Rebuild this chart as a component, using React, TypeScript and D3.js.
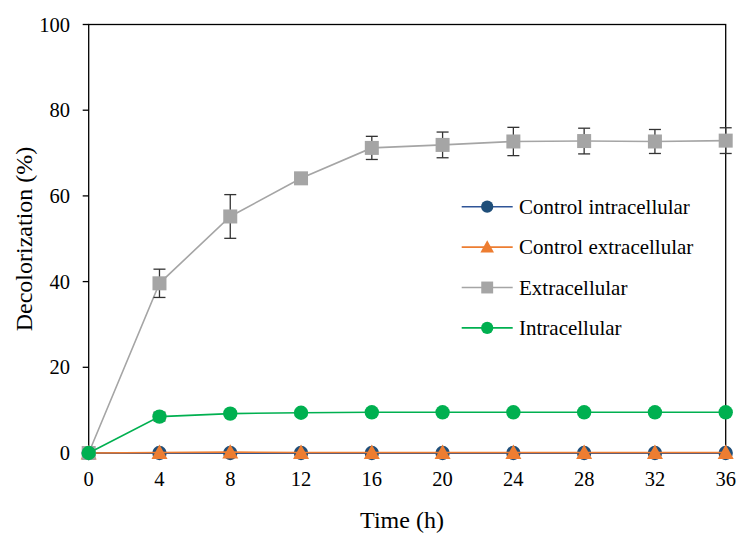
import React from "react";
import * as d3 from "d3";

const times = [0, 4, 8, 12, 16, 20, 24, 28, 32, 36];
const controlIntra = [0, 0, 0, 0, 0, 0, 0, 0, 0, 0];
const controlExtra = [0, 0.1, 0.2, 0.1, 0.1, 0.1, 0.1, 0.1, 0.1, 0.1];
const extra = [0, 39.6, 55.2, 64.1, 71.2, 71.9, 72.7, 72.8, 72.7, 72.9];
const extraErr = [0, 3.3, 5.1, 0.8, 2.7, 3.0, 3.3, 3.0, 2.8, 3.0];
const intra = [0, 8.5, 9.2, 9.4, 9.5, 9.5, 9.5, 9.5, 9.5, 9.5];
const intraErr = [0, 1.0, 0.6, 0.3, 0.3, 0.3, 0.3, 0.3, 0.3, 0.3];
const xTicks = [0, 4, 8, 12, 16, 20, 24, 28, 32, 36];
const yTicks = [0, 20, 40, 60, 80, 100];
const legendLabels = ["Control intracellular", "Control extracellular", "Extracellular", "Intracellular"];

const W = 738, H = 533;
const M = { left: 88.7, right: 725.7, top: 24.5, bottom: 453 };
const font = "'Liberation Serif', 'Times New Roman', Times, serif";

type Series = { name: string; values: number[]; err?: number[]; color: string; lineColor: string; shape: string };

export default function App() {
  const x = d3.scaleLinear().domain([0, 36]).range([M.left, M.right]);
  const y = d3.scaleLinear().domain([0, 100]).range([M.bottom, M.top]);

  const series: Series[] = [
    { name: legendLabels[0], values: controlIntra, color: "#1F4E79", lineColor: "#2F5597", shape: "circle" },
    { name: legendLabels[1], values: controlExtra, color: "#ED7D31", lineColor: "#ED7D31", shape: "triangle" },
    { name: legendLabels[2], values: extra, err: extraErr, color: "#A5A5A5", lineColor: "#A5A5A5", shape: "square" },
    { name: legendLabels[3], values: intra, err: intraErr, color: "#00B050", lineColor: "#00B050", shape: "circle" },
  ];

  const marker = (shape: string, cx: number, cy: number, color: string, key: string | number, size = 1) => {
    if (shape === "circle") return <circle key={key} cx={cx} cy={cy} r={7.2 * size} fill={color} />;
    if (shape === "square") return <rect key={key} x={cx - 7 * size} y={cy - 7 * size} width={14 * size} height={14 * size} fill={color} />;
    const s = 8 * size;
    return <path key={key} d={`M${cx},${cy - s}L${cx + s},${cy + s * 0.8}L${cx - s},${cy + s * 0.8}Z`} fill={color} />;
  };

  const line = d3.line<number>().x((_, i) => x(times[i])).y((d) => y(d));

  return (
    <svg width={W} height={H} style={{ position: "absolute", left: 0, top: 0, background: "#fff", fontFamily: font }}>
      <rect x={0} y={0} width={W} height={H} fill="#fff" />
      <rect x={M.left} y={M.top} width={M.right - M.left} height={M.bottom - M.top} fill="none" stroke="#000" strokeWidth={1.3} />
      {yTicks.map((t) => (
        <g key={t}>
          <line x1={M.left - 6} x2={M.left} y1={y(t)} y2={y(t)} stroke="#000" strokeWidth={1.3} />
          <text x={70} y={y(t)} dy="0.35em" textAnchor="end" fontSize={20.5}>{t}</text>
        </g>
      ))}
      {xTicks.map((t) => (
        <text key={t} x={x(t)} y={485.7} textAnchor="middle" fontSize={20.5}>{t}</text>
      ))}
      <text x={402} y={527.5} textAnchor="middle" fontSize={24}>Time (h)</text>
      <text transform={`translate(32,239) rotate(-90)`} textAnchor="middle" fontSize={24}>Decolorization (%)</text>

      {series.map((s, si) => (
        <g key={si}>
          <path d={line(s.values) || ""} fill="none" stroke={s.lineColor} strokeWidth={1.6} />
          {s.err && s.err.map((e, i) => e > 0.5 ? (
            <g key={i} stroke="#333" strokeWidth={1.3}>
              <line x1={x(times[i])} x2={x(times[i])} y1={y(s.values[i] + e)} y2={y(s.values[i] - e)} />
              <line x1={x(times[i]) - 6} x2={x(times[i]) + 6} y1={y(s.values[i] + e)} y2={y(s.values[i] + e)} />
              <line x1={x(times[i]) - 6} x2={x(times[i]) + 6} y1={y(s.values[i] - e)} y2={y(s.values[i] - e)} />
            </g>
          ) : null)}
          {s.values.map((v, i) => marker(s.shape, x(times[i]), y(v), s.color, i))}
        </g>
      ))}

      {series.map((s, i) => {
        const ly = 206.7 + i * 40.4;
        return (
          <g key={"lg" + i}>
            <line x1={461.7} x2={512.7} y1={ly} y2={ly} stroke={s.lineColor} strokeWidth={1.6} />
            {marker(s.shape, 487.2, ly, s.color, "m" + i, 0.85)}
            <text x={519} y={ly} dy="0.35em" fontSize={21}>{s.name}</text>
          </g>
        );
      })}
    </svg>
  );
}
